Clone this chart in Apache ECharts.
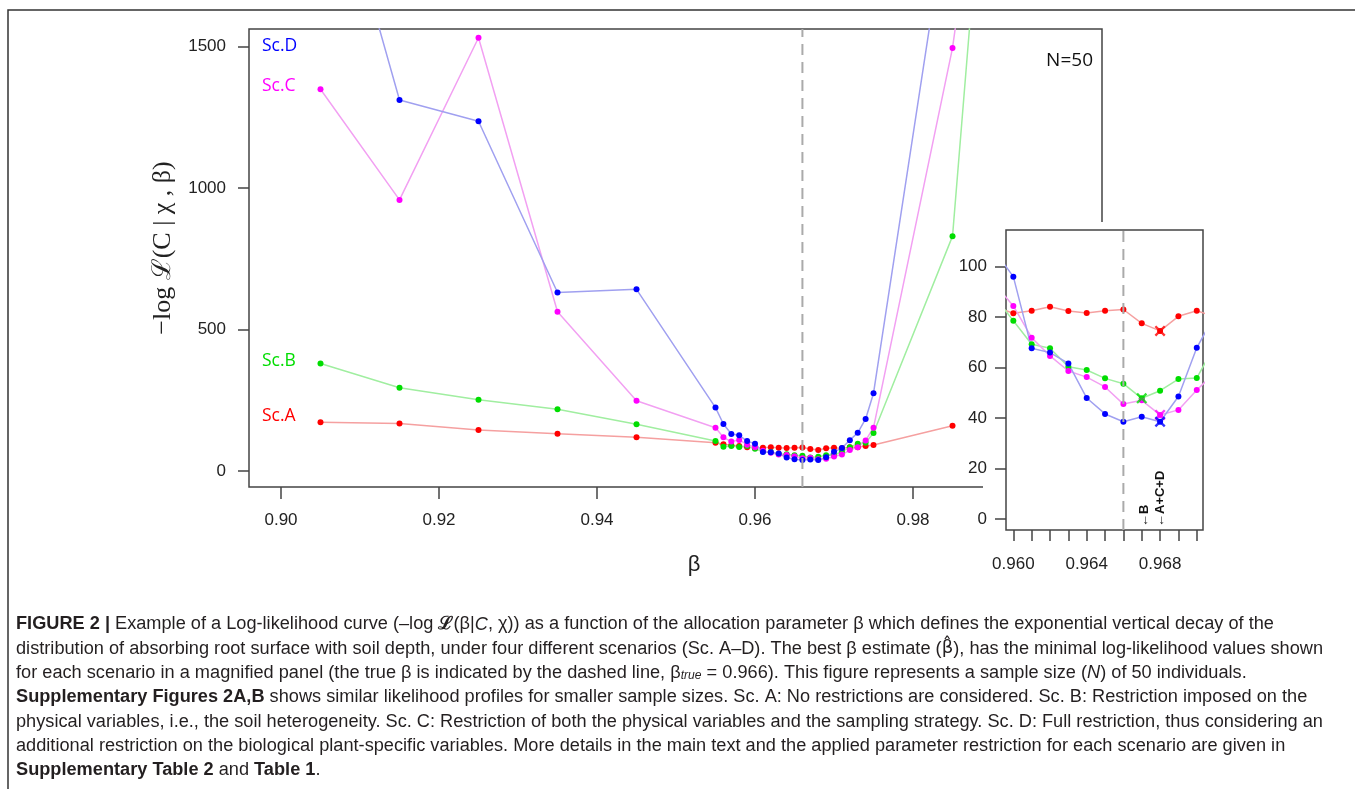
<!DOCTYPE html>
<html>
<head>
<meta charset="utf-8">
<script src="https://cdn.jsdelivr.net/npm/echarts@6.0.0/dist/echarts.min.js"></script>
<style>
  html, body { margin: 0; padding: 0; background: #fff; }
  #fig { width: 1355px; height: 789px; }
</style>
</head>
<body>
<div id="fig"></div>
<script>
  // beta values that were evaluated
  var beta = [0.905, 0.915, 0.925, 0.935, 0.945, 0.955, 0.956, 0.957, 0.958, 0.959,
    0.960, 0.961, 0.962, 0.963, 0.964, 0.965, 0.966, 0.967, 0.968, 0.969, 0.970,
    0.971, 0.972, 0.973, 0.974, 0.975, 0.985, 0.995]

  // -log likelihood per scenario
  var scA = [172, 168, 145, 132, 119, 100, 95, 91, 88, 84,
    81.5, 82.5, 84.1, 82.4, 81.6, 82.5, 83.0, 77.5, 74.5, 80.3, 82.5,
    80, 84, 84, 88, 92, 160, null]
  var scB = [380, 294, 252, 218, 165, 106, 86, 88, 85, 88,
    78.5, 69.2, 67.6, 60.3, 59, 55.7, 53.6, 47.8, 50.8, 55.4, 55.8,
    69, 84, 96, 100, 134, 830, 4250]
  var scC = [1349, 958, 1531, 563, 248, 153, 119, 104, 110, 93,
    84.4, 71.8, 64.6, 58.6, 56.2, 52.3, 45.5, 47, 41.2, 43.2, 51.1,
    58, 74, 84, 108, 153, 1495, 3500]
  var scD = [2300, 1311, 1236, 631, 642, 224, 166, 131, 126, 106,
    96, 67.6, 65.9, 61.6, 47.9, 41.6, 38.5, 40.5, 38.5, 48.5, 67.8,
    81, 109, 135, 184, 275, 2100, null]

  var scNames = ['Sc.A', 'Sc.B', 'Sc.C', 'Sc.D']
  var bestBeta = [0.968, 0.967, 0.968, 0.968]
  var trueBeta = 0.966

  var mainXRange = [0.89595, 1.00392]
  var mainYRange = [-56.5, 1562]
  var insetXRange = [0.9596, 0.97034]
  var insetYRange = [-4.4, 114.5]
  var mainXTicks = [0.90, 0.92, 0.94, 0.96, 0.98]
  var mainYTicks = [0, 500, 1000, 1500]
  var insetXTicks = [0.960, 0.961, 0.962, 0.963, 0.964, 0.965, 0.966, 0.967, 0.968, 0.969, 0.970]
  var insetXLabels = [0.960, 0.964, 0.968]
  var insetYTicks = [0, 20, 40, 60, 80, 100]

  var scenarios = [scA, scB, scC, scD]
  var lineColors = ['#f5a0a0', '#a0eea0', '#f2a0f2', '#a0a0f0']
  var dotColors = ['#ff0000', '#00dd00', '#ff00ff', '#0000ff']
  var boxColor = '#444'
  var sansFont = 'Liberation Sans'

  var chart = echarts.init(document.getElementById('fig'), null, {renderer: 'canvas'})

  function pairs(vals) {
    return beta.map(function (b, i) { return [b, vals[i]] })
  }

  function valueAxis(gi, range, ticks, labels, fmt, tickLen, margin, z) {
    return {
      type: 'value',
      gridIndex: gi,
      min: range[0],
      max: range[1],
      z: z,
      axisLine: {show: false, onZero: false},
      splitLine: {show: false},
      axisTick: {show: true, length: tickLen, lineStyle: {color: boxColor, width: 1.5}, customValues: ticks},
      axisLabel: {
        customValues: labels,
        formatter: fmt,
        margin: margin,
        fontSize: 17,
        color: '#222',
        fontFamily: sansFont
      }
    }
  }

  function lineSeries(k, gi, z) {
    return {
      type: 'line',
      xAxisIndex: gi,
      yAxisIndex: gi,
      z: z,
      silent: true,
      data: pairs(scenarios[k]),
      symbol: 'circle',
      symbolSize: 6,
      showAllSymbol: true,
      lineStyle: {color: lineColors[k], width: 1.5},
      itemStyle: {color: dotColors[k]}
    }
  }

  function trueLine(gi, yRange, z) {
    return {
      type: 'line',
      xAxisIndex: gi,
      yAxisIndex: gi,
      z: z,
      silent: true,
      symbol: 'none',
      data: [[trueBeta, yRange[0]], [trueBeta, yRange[1]]],
      lineStyle: {color: '#aaa', type: [11, 7], width: 2}
    }
  }

  var series = []
  for (var k = 0; k < 4; k++) series.push(lineSeries(k, 0, 2))
  series.push(trueLine(0, mainYRange, 3))
  for (var k = 0; k < 4; k++) series.push(lineSeries(k, 1, 100))
  series.push(trueLine(1, insetYRange, 101))

  // crosses at the best beta of each scenario
  var crossPath = 'path://M0,1.5L1.5,0L5,3.5L8.5,0L10,1.5L6.5,5L10,8.5L8.5,10L5,6.5L1.5,10L0,8.5L3.5,5Z'
  for (var k = 0; k < 4; k++) {
    var idx = beta.indexOf(bestBeta[k])
    series.push({
      type: 'scatter',
      xAxisIndex: 1,
      yAxisIndex: 1,
      z: 110,
      silent: true,
      symbol: crossPath,
      symbolSize: 11,
      itemStyle: {color: dotColors[k]},
      data: [[bestBeta[k], scenarios[k][idx]]]
    })
  }

  // scenario labels inside the main panel
  var scLabelY = [416, 361, 86, 46]
  var texts = []
  for (var k = 0; k < 4; k++) {
    texts.push({
      type: 'text', x: 262, y: scLabelY[k], z: 200, silent: true,
      style: {text: scNames[k], fill: dotColors[k], font: '17.5px "Open Sans"', verticalAlign: 'middle'}
    })
  }

  var captionLines = [
    '{b|FIGURE 2 |} Example of a Log-likelihood curve (\u2013log {L|\u2112}(\u03b2|{i|C}, \u03c7)) as a function of the allocation parameter \u03b2 which defines the exponential vertical decay of the',
    'distribution of absorbing root surface with soil depth, under four different scenarios (Sc. A\u2013D). The best \u03b2 estimate ({h|\u03b2\u0302}), has the minimal log-likelihood values shown',
    'for each scenario in a magnified panel (the true \u03b2 is indicated by the dashed line, \u03b2{s|true} = 0.966). This figure represents a sample size ({i|N}) of 50 individuals.',
    '{b|Supplementary Figures 2A,B} shows similar likelihood profiles for smaller sample sizes. Sc. A: No restrictions are considered. Sc. B: Restriction imposed on the',
    'physical variables, i.e., the soil heterogeneity. Sc. C: Restriction of both the physical variables and the sampling strategy. Sc. D: Full restriction, thus considering an',
    'additional restriction on the biological plant-specific variables. More details in the main text and the applied parameter restriction for each scenario are given in',
    '{b|Supplementary Table 2} and {b|Table 1}.'
  ]
  var capSize = 18
  var capRich = {
    b: {fontSize: capSize, fontFamily: sansFont, fontWeight: 'bold', fill: '#231f20'},
    i: {fontSize: capSize, fontFamily: sansFont, fontStyle: 'italic', fill: '#231f20'},
    h: {fontSize: capSize, fontFamily: 'DejaVu Sans', fill: '#231f20'},
    L: {fontSize: capSize, fontFamily: 'DejaVu Serif', fontWeight: 'bold', fill: '#231f20'},
    s: {fontSize: 12, fontFamily: sansFont, fontStyle: 'italic', fill: '#231f20', verticalAlign: 'bottom'}
  }
  captionLines.forEach(function (t, i) {
    texts.push({
      type: 'text', x: 16, y: 624.5 + i * 24.3, scaleX: 1.01, z: 200, silent: true,
      style: {text: t, fontSize: capSize, fontFamily: sansFont, fill: '#231f20', verticalAlign: 'middle', rich: capRich}
    })
  })

  var graphics = [
    {type: 'rect', z: 0, silent: true, shape: {x: 8, y: 10, width: 1400, height: 900},
      style: {fill: null, stroke: '#333', lineWidth: 1.5}},
    // white backing of the magnified panel
    {type: 'rect', z: 50, silent: true, shape: {x: 983, y: 222, width: 250, height: 370}, style: {fill: '#fff'}},
    {type: 'text', x: 1093, y: 61, z: 200, silent: true,
      style: {text: 'N=50', font: '19px "Open Sans"', fill: '#111', align: 'right', verticalAlign: 'middle'}},
    {type: 'text', x: 163, y: 248, rotation: Math.PI / 2, z: 200, silent: true,
      style: {text: '\u2212log \u2112(C | \u03c7 , \u03b2)', font: '26px "Liberation Serif"', fill: '#222', align: 'center', verticalAlign: 'middle'}},
    {type: 'text', x: 694, y: 565, z: 200, silent: true,
      style: {text: '\u03b2', font: '22px "Liberation Sans"', fill: '#222', align: 'center', verticalAlign: 'middle'}},
    {type: 'text', x: 1144, y: 527, rotation: Math.PI / 2, z: 200, silent: true,
      style: {text: '\u2190B', font: 'bold 13px "Liberation Sans"', fill: '#111', align: 'left', verticalAlign: 'middle'}},
    {type: 'text', x: 1160.5, y: 527, rotation: Math.PI / 2, z: 200, silent: true,
      style: {text: '\u2190A+C+D', font: 'bold 13px "Liberation Sans"', fill: '#111', align: 'left', verticalAlign: 'middle'}}
  ].concat(texts)

  function plain(v) { return String(v) }

  chart.setOption({
    animation: false,
    backgroundColor: '#fff',
    grid: [
      {left: 249, top: 29, width: 853, height: 458, show: true, borderColor: boxColor, borderWidth: 1.5},
      {left: 1006, top: 230, width: 197, height: 300, show: true, borderColor: boxColor, borderWidth: 1.5, z: 100}
    ],
    xAxis: [
      valueAxis(0, mainXRange, mainXTicks, mainXTicks, function (v) { return v.toFixed(2) }, 12, 25, 0),
      valueAxis(1, insetXRange, insetXTicks, insetXLabels, function (v) { return v.toFixed(3) }, 11, 26, 100)
    ],
    yAxis: [
      valueAxis(0, mainYRange, mainYTicks, mainYTicks, plain, 11, 23, 0),
      valueAxis(1, insetYRange, insetYTicks, insetYTicks, plain, 11, 19, 100)
    ],
    graphic: {elements: graphics},
    series: series
  })
</script>
</body>
</html>
